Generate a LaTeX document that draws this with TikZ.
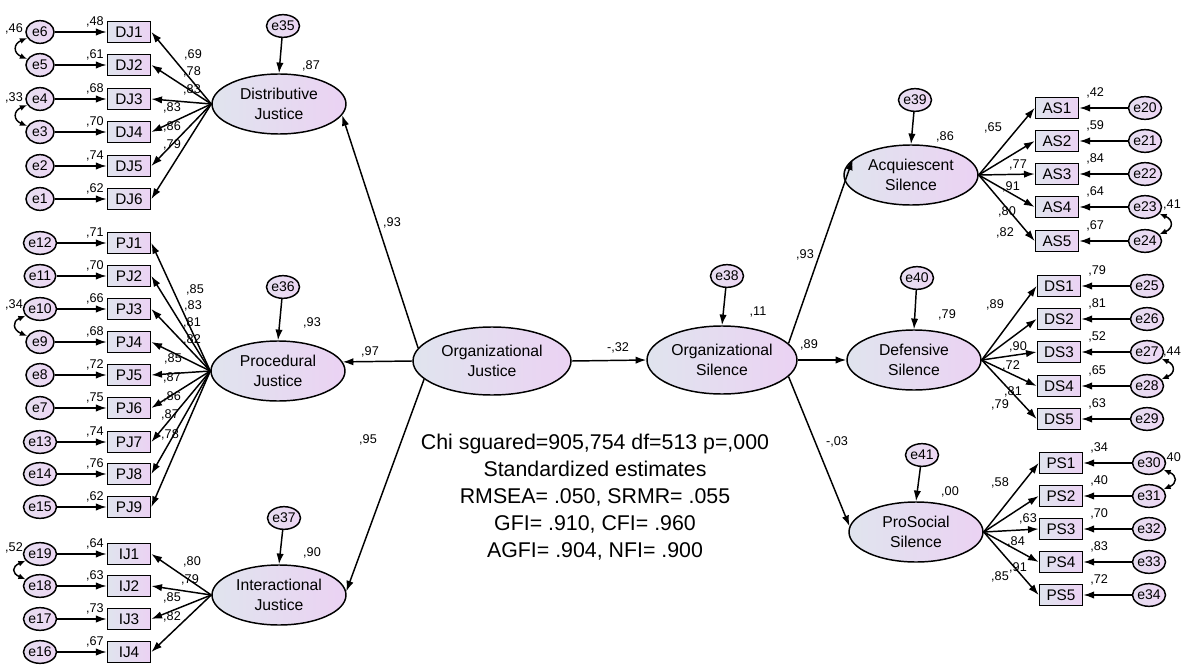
\documentclass[tikz,border=0pt]{standalone}
\usepackage{fontspec}
\setmainfont{Liberation Sans}
\usetikzlibrary{shapes.geometric,arrows.meta}
\definecolor{fl}{HTML}{E0E4EE}
\definecolor{fr}{HTML}{EBD2F3}
\definecolor{el}{HTML}{E6DEF0}
\definecolor{er}{HTML}{EDD6F4}
\begin{document}
\begin{tikzpicture}[x=0.75pt,y=-0.75pt,
  fac/.style={ellipse,draw,line width=1.1pt,left color=fl,right color=fr,minimum width=100.5pt,minimum height=45pt,inner sep=0pt,align=center,font=\fontsize{11.8}{15}\selectfont},
  ind/.style={rectangle,draw,line width=1.3pt,left color=fl,right color=fr,minimum width=32.25pt,minimum height=15.75pt,inner sep=0pt,font=\fontsize{11.5}{13}\selectfont},
  err/.style={ellipse,draw,line width=1.1pt,left color=el,right color=er,minimum width=21pt,minimum height=17pt,inner sep=0pt,font=\fontsize{10.5}{12}\selectfont},
  lab/.style={inner sep=0pt,font=\fontsize{9.5}{11}\selectfont},
  arr/.style={line width=1.1pt,-{Latex[length=8pt,width=5.5pt]}},
  cov/.style={line width=1.1pt,{Latex[length=5.5pt,width=4.5pt]}-{Latex[length=5.5pt,width=4.5pt]}}
]
\useasboundingbox (0,0) rectangle (1182,667);

% latent factors
\node[fac] (DJ) at (279,104) {Distributive\\Justice};
\node[fac] (PJ) at (278,371) {Procedural\\Justice};
\node[fac] (IJ) at (279,595) {Interactional\\Justice};
\node[fac,minimum width=118.5pt,minimum height=51pt] (OJ) at (492,361) {Organizational\\Justice};
\node[fac,minimum width=112.5pt,minimum height=51pt] (OS) at (722,360) {Organizational\\Silence};
\node[fac] (AS) at (911,175) {Acquiescent\\Silence};
\node[fac] (DS) at (914,360) {Defensive\\Silence};
\node[fac] (PS) at (916,532) {ProSocial\\Silence};

% residuals of latent factors
\node[err] (e35) at (283,26) {e35};
\node[err] (e36) at (283,287) {e36};
\node[err] (e37) at (284,518) {e37};
\node[err] (e38) at (727,276) {e38};
\node[err] (e39) at (915,100) {e39};
\node[err] (e40) at (917,278) {e40};
\node[err] (e41) at (922,455) {e41};
\draw[arr] (e35) -- (DJ.north);
\draw[arr] (e36) -- (PJ.north);
\draw[arr] (e37) -- (IJ.north);
\draw[arr] (e38) -- (OS.north);
\draw[arr] (e39) -- (AS.north);
\draw[arr] (e40) -- (DS.north);
\draw[arr] (e41) -- (PS.north);

% structural paths
\draw[arr] (OJ.170) -- (DJ.-10);
\draw[arr] (OJ.west) -- (PJ.8);
\draw[arr] (OJ.-165) -- (IJ.3);
\draw[arr] (OJ.east) -- (OS.west);
\draw[arr] (OS.14) -- (AS.165);
\draw[arr] (OS.east) -- (DS.west);
\draw[arr] (OS.-14) -- (PS.175);

% Distributive Justice indicators
\foreach \i/\y/\e/\r in {1/32/6/{,48},2/65/5/{,61},3/99/4/{,68},4/132/3/{,70},5/166/2/{,74},6/199/1/{,62}} {
  \node[ind] (DJ\i) at (129,\y) {DJ\i};
  \node[err] (e\e) at (40,\y) {e\e};
  \draw[arr] (e\e) -- (DJ\i);
  \draw[arr] (DJ.west) -- (DJ\i.east);
  \node[lab,anchor=base east,xshift=-2pt,yshift=-3.5pt] (r\e) at (DJ\i.north west) {\r};
}
% Procedural Justice indicators
\foreach \i/\y/\e/\r in {1/243/12/{,71},2/276/11/{,70},3/309/10/{,66},4/342/9/{,68},5/375/8/{,72},6/408/7/{,75},7/442/13/{,74},8/474/14/{,76},9/507/15/{,62}} {
  \node[ind] (PJ\i) at (129,\y) {PJ\i};
  \node[err] (e\e) at (40,\y) {e\e};
  \draw[arr] (e\e) -- (PJ\i);
  \draw[arr] (PJ.west) -- (PJ\i.east);
  \node[lab,anchor=base east,xshift=-2pt,yshift=-3.5pt] (r\e) at (PJ\i.north west) {\r};
}
% Interactional Justice indicators
\foreach \i/\y/\e/\r in {1/554/19/{,64},2/586/18/{,63},3/619/17/{,73},4/652/16/{,67}} {
  \node[ind] (IJ\i) at (129,\y) {IJ\i};
  \node[err] (e\e) at (40,\y) {e\e};
  \draw[arr] (e\e) -- (IJ\i);
  \draw[arr] (IJ.west) -- (IJ\i.east);
  \node[lab,anchor=base east,xshift=-2pt,yshift=-3.5pt] (r\e) at (IJ\i.north west) {\r};
}
% Acquiescent Silence indicators
\foreach \i/\y/\e/\r in {1/108/20/{,42},2/141/21/{,59},3/174/22/{,84},4/207/23/{,64},5/241/24/{,67}} {
  \node[ind] (AS\i) at (1057,\y) {AS\i};
  \node[err] (e\e) at (1145,\y) {e\e};
  \draw[arr] (e\e) -- (AS\i);
  \draw[arr] (AS.east) -- (AS\i.west);
  \node[lab,anchor=base west,xshift=5pt] (r\e) at (AS\i.north east) {\r};
}
% Defensive Silence indicators
\foreach \i/\y/\e/\r in {1/286/25/{,79},2/319/26/{,81},3/352/27/{,52},4/386/28/{,65},5/419/29/{,63}} {
  \node[ind] (DS\i) at (1059,\y) {DS\i};
  \node[err] (e\e) at (1147,\y) {e\e};
  \draw[arr] (e\e) -- (DS\i);
  \draw[arr] (DS.east) -- (DS\i.west);
  \node[lab,anchor=base west,xshift=5pt] (r\e) at (DS\i.north east) {\r};
}
% ProSocial Silence indicators
\foreach \i/\y/\e/\r in {1/463/30/{,34},2/496/31/{,40},3/529/32/{,70},4/562/33/{,83},5/595/34/{,72}} {
  \node[ind] (PS\i) at (1061,\y) {PS\i};
  \node[err] (e\e) at (1149,\y) {e\e};
  \draw[arr] (e\e) -- (PS\i);
  \draw[arr] (PS.east) -- (PS\i.west);
  \node[lab,anchor=base west,xshift=5pt] (r\e) at (PS\i.north east) {\r};
}

% covariances
\draw[cov] (e6.205) .. controls +(-14,6) and +(-14,-6) .. (e5.155);
\draw[cov] (e4.205) .. controls +(-14,6) and +(-14,-6) .. (e3.155);
\draw[cov] (e10.205) .. controls +(-14,6) and +(-14,-6) .. (e9.155);
\draw[cov] (e19.205) .. controls +(-14,6) and +(-14,-6) .. (e18.155);
\draw[cov] (e23.-25) .. controls +(14,6) and +(14,-6) .. (e24.25);
\draw[cov] (e27.-25) .. controls +(14,6) and +(14,-6) .. (e28.25);
\draw[cov] (e30.-25) .. controls +(14,6) and +(14,-6) .. (e31.25);
\node[lab] (c1) at (14,29) {,46};
\node[lab] (c2) at (14,98) {,33};
\node[lab] (c3) at (14,305) {,34};
\node[lab] (c4) at (14,548) {,52};
\node[lab] (c5) at (1172,205) {,41};
\node[lab] (c6) at (1172,352) {,44};
\node[lab] (c7) at (1172,458) {,40};

% loading labels
\foreach \x/\y/\t [count=\k] in {193/55/{,69},192/72/{,78},192/90/{,83},172/108/{,83},172/127/{,86},172/145/{,79},
  195/290/{,85},193/306/{,83},192/323/{,81},192/340/{,82},173/359/{,85},172/378/{,87},172/397/{,86},170/415/{,87},170/435/{,78},
  192/562/{,80},190/580/{,79},172/598/{,85},172/617/{,82},
  993/128/{,65},1018/165/{,77},1011/187/{,91},1007/212/{,80},1005/233/{,82},
  995/305/{,89},1018/347/{,90},1011/366/{,72},1013/392/{,81},1000/405/{,79},
  1000/483/{,58},1028/519/{,63},1016/542/{,84},1018/568/{,91},1000/577/{,85}}
  \node[lab] (ld\k) at (\x,\y) {\t};

% R-squared of latent factors
\node[lab] (s1) at (311,66) {,87};
\node[lab] (s2) at (312,323) {,93};
\node[lab] (s3) at (312,553) {,90};
\node[lab] (s4) at (758,312) {,11};
\node[lab] (s5) at (945,137) {,86};
\node[lab] (s6) at (947,315) {,79};
\node[lab] (s7) at (950,492) {,00};

% structural coefficients
\node[lab] (p1) at (392,223) {,93};
\node[lab] (p2) at (370,352) {,97};
\node[lab] (p3) at (368,440) {,95};
\node[lab] (p4) at (618,348) {-,32};
\node[lab] (p5) at (805,255) {,93};
\node[lab] (p6) at (809,345) {,89};
\node[lab] (p7) at (837,442) {-,03};

% fit statistics
\node[align=center,inner sep=0pt,font=\fontsize{16}{20.25}\selectfont] (fit) at (595,497) {Chi sguared=905,754 df=513 p=,000\\Standardized estimates\\RMSEA= .050, SRMR= .055\\GFI= .910, CFI= .960\\AGFI= .904, NFI= .900};
\end{tikzpicture}
\end{document}
